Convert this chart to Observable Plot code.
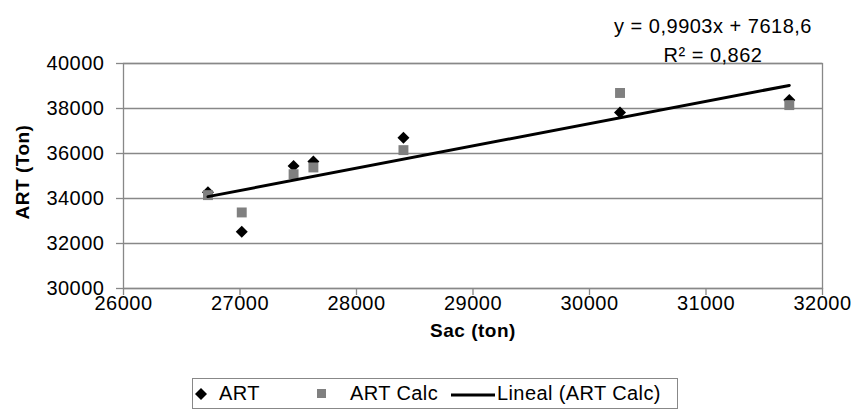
<!DOCTYPE html>
<html>
<head>
<meta charset="utf-8">
<script src="https://cdn.jsdelivr.net/npm/d3@7"></script>
<script src="https://cdn.jsdelivr.net/npm/@observablehq/plot@0.6"></script>
<style>
  html, body { margin: 0; padding: 0; background: #fff; }
  body { width: 858px; height: 413px; overflow: hidden; font-family: "Liberation Sans", Arial, sans-serif; }
  #chart svg { display: block; }
  #legend {
    position: absolute; left: 192px; top: 378px; width: 486px; height: 31px;
    border: 1px solid #888; box-sizing: border-box; background: #fff;
    font-size: 20px; letter-spacing: 0.4px; color: #000;
  }
  #legend span { position: absolute; top: 3px; }
</style>
</head>
<body>
<div id="chart"></div>
<div id="legend"></div>
<script>
// Data
const sac     = [26725, 27015, 27460, 27630, 28403, 30262, 31715];
const art     = [34280, 32520, 35450, 35650, 36700, 37820, 38380];
const artCalc = [34150, 33380, 35080, 35380, 36150, 38690, 38150];
const slope = 0.9903, intercept = 7618.6;
const equationLines = ["y = 0,9903x + 7618,6", "R² = 0,862"];
const xTicks = [26000, 27000, 28000, 29000, 30000, 31000, 32000];
const yTicks = [30000, 32000, 34000, 36000, 38000, 40000];
const legendLabels = ["ART", "ART Calc", "Lineal (ART Calc)"];

const artData = sac.map((x, i) => ({x, y: art[i]}));
const calcData = sac.map((x, i) => ({x, y: artCalc[i]}));
const xExt = d3.extent(sac);
const trend = xExt.map(x => ({x, y: slope * x + intercept}));
const fmt = d => String(d);

const chart = Plot.plot({
  width: 858,
  height: 350,
  marginLeft: 123,
  marginRight: 36,
  marginTop: 63,
  marginBottom: 62,
  style: {fontFamily: "Liberation Sans, Arial, sans-serif", fontSize: "20px", letterSpacing: "0.5px", color: "#000", background: "#fff"},
  x: {domain: [26000, 32000], label: null},
  y: {domain: [30000, 40000], label: null},
  marks: [
    Plot.gridY(yTicks, {stroke: "#888", strokeOpacity: 1, strokeWidth: 1.3}),
    Plot.frame({stroke: "#888", strokeWidth: 1.3}),
    Plot.axisX(xTicks, {tickSize: 7, tickPadding: 0, tickFormat: fmt, stroke: "#888", strokeWidth: 1.3, fontSize: 20, label: null}),
    Plot.axisY(yTicks, {tickSize: 7, tickPadding: 12, tickFormat: fmt, stroke: "#888", strokeWidth: 1.3, fontSize: 20, label: null}),
    Plot.dot(artData, {x: "x", y: "y", symbol: "diamond2", r: 5.4, fill: "#000", stroke: "none"}),
    Plot.dot(calcData, {x: "x", y: "y", symbol: "square", r: 5.6, fill: "#808080", stroke: "none"}),
    Plot.line(trend, {x: "x", y: "y", stroke: "#000", strokeWidth: 3}),
    Plot.text([equationLines[0]], {frameAnchor: "top", dx: 240, dy: -45, text: d => d, fontSize: 20}),
    Plot.text([equationLines[1]], {frameAnchor: "top", dx: 240, dy: -16, text: d => d, fontSize: 20}),
    Plot.text(["Sac (ton)"], {frameAnchor: "bottom", dy: 48, text: d => d, fontWeight: "bold", fontSize: 19}),
    Plot.text(["ART (Ton)"], {frameAnchor: "left", textAnchor: "middle", dx: -101, dy: -4, rotate: -90, text: d => d, fontWeight: "bold", fontSize: 19})
  ]
});
document.getElementById("chart").appendChild(chart);

// Legend
const lg = document.getElementById("legend");
lg.innerHTML = `
  <svg width="486" height="31" style="position:absolute;left:0;top:0">
    <path d="M8,8 L14,14 L8,20 L2,14 Z" transform="translate(0,1)" fill="#000"/>
    <rect x="124" y="10" width="9" height="9" fill="#808080"/>
    <line x1="258" y1="16" x2="302" y2="16" stroke="#000" stroke-width="3"/>
  </svg>
  <span style="left:26px">${legendLabels[0]}</span>
  <span style="left:157px">${legendLabels[1]}</span>
  <span style="left:304px">${legendLabels[2]}</span>
`;
</script>
</body>
</html>
